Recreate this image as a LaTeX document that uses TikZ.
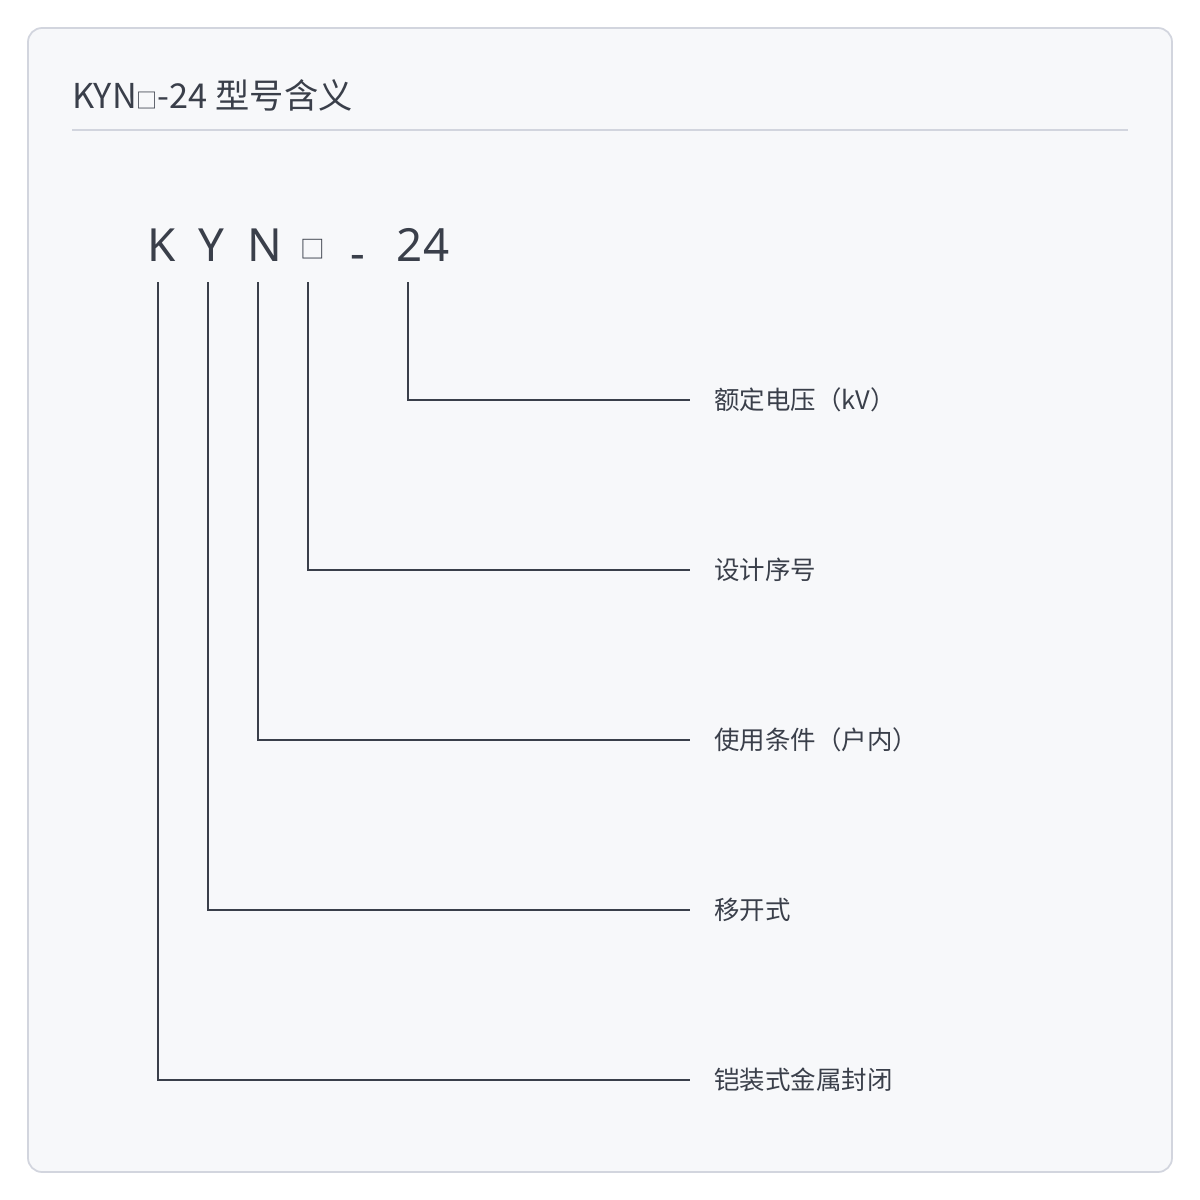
\documentclass[tikz,border=0pt]{standalone}
\usepackage{fontspec}
\setmainfont{Noto Sans CJK SC}
\newfontfamily\latin{Noto Sans}
\usetikzlibrary{positioning}
\definecolor{ink}{HTML}{3A3F4A}
\definecolor{panel}{HTML}{F7F8FA}
\definecolor{frame}{HTML}{D2D5DE}
\begin{document}
\begin{tikzpicture}[x=0.02cm, y=-0.02cm,
    code/.style={font=\latin\fontsize{26}{30}\selectfont, text=ink, inner sep=0pt},
    meaning/.style={font=\fontsize{14.5}{18}\selectfont, text=ink, anchor=west, inner sep=0pt},
    leader/.style={draw=ink, line width=0.9pt},
]
\useasboundingbox (0,0) rectangle (1200,1200);
\fill[white] (0,0) rectangle (1200,1200);
\draw[frame, fill=panel, line width=1pt, rounded corners=8] (28,28) rectangle (1172,1172);

% Title
\node[anchor=west, text=ink, inner sep=0pt, font=\fontsize{19.5}{23}\selectfont] (title) at (72,95) {KYN{\fontsize{12}{13}\selectfont □}-24 型号含义};
\draw[frame, line width=1pt] (72,130) -- (1128,130);

% Code letters
\node[code] (k) at (162,245) {K};
\node[code] (y) at (211,245) {Y};
\node[code] (n) at (265,245) {N};
\node[code] (sq) at (313,249) {\fontfamily{}\setmainfont{Noto Sans CJK SC}\fontsize{14}{16}\selectfont □};
\node[code] (dash) at (358,250) {\raisebox{-1.6ex}{-}};
\node[code] (num) at (423,245) {24};

% Meanings
\node[meaning] (volt) at (714,400) {额定电压（kV）};
\node[meaning] (serial) at (714,570) {设计序号};
\node[meaning] (indoor) at (714,740) {使用条件（户内）};
\node[meaning] (move) at (714,910) {移开式};
\node[meaning] (metal) at (714,1080) {铠装式金属封闭};

% Leaders
\foreach \x/\yy/\lab in {408/400/volt, 308/570/serial, 258/740/indoor, 208/910/move, 158/1080/metal}
  \draw[leader] (\x,282) |- ([xshift=-24*0.02cm]\lab.west);
\end{tikzpicture}
\end{document}
